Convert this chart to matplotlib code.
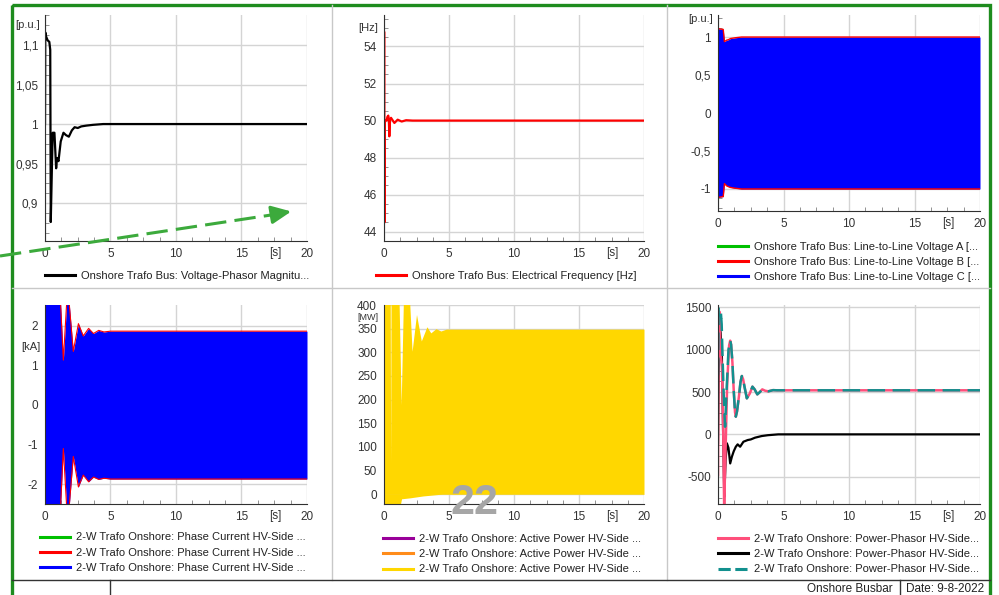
import matplotlib
matplotlib.use("Agg")
import matplotlib.pyplot as plt
from matplotlib.lines import Line2D
from matplotlib.patches import Rectangle
from matplotlib.ticker import AutoMinorLocator, FuncFormatter, MultipleLocator
import matplotlib.transforms as mtransforms

plt.rcParams['font.family'] = ['Liberation Sans', 'DejaVu Sans']

# --- data (time in s) ---
# 1) voltage-phasor magnitude [p.u.]
v_t = [0, 0.02, 0.08, 0.2, 0.33, 0.4, 0.44, 0.54, 0.59, 0.72, 0.85, 0.92, 1.03, 1.2,
       1.41, 1.6, 1.82, 2.05, 2.26, 2.5, 2.77, 3.15, 3.67, 4.44, 5.5, 20]
v_pu = [1.0, 1.116, 1.111, 1.106, 1.104, 1.094, 0.876, 0.955, 0.989, 0.989, 0.944, 0.957, 0.953, 0.978,
        0.989, 0.986, 0.984, 0.992, 0.996, 0.995, 0.997, 0.998, 0.999, 1.0, 1.0, 1.0]

# 2) electrical frequency [Hz]
f_t = [0, 0.01, 0.03, 0.06, 0.2, 0.26, 0.33, 0.37, 0.41, 0.46, 0.54, 0.8, 1.05, 1.36, 1.7, 2.2, 20]
f_hz = [50.0, 54.8, 44.5, 50.0, 50.0, 50.2, 50.27, 50.1, 49.15, 50.0, 50.15, 49.87, 50.05, 49.95, 50.02, 50.0, 50.0]

# 3) line-to-line voltage envelope [p.u.]
ul_t = [0, 0.03, 0.4, 0.49, 0.67, 0.8, 0.95, 1.3, 1.8, 20]
ul_up = [1.08, 1.11, 1.1, 0.94, 0.96, 0.965, 0.98, 0.99, 1.0, 1.0]
ul_lo = [-1.08, -1.11, -1.1, -0.93, -0.96, -0.97, -0.98, -0.99, -1.0, -1.0]

# 4) phase current HV-side envelope [kA]
ia_t = [0, 1.19, 1.4, 1.65, 1.85, 2.16, 2.55, 2.92, 3.33, 3.7, 4.1, 4.5, 5.0, 20]
ia_up = [2.55, 2.55, 1.13, 2.55, 2.55, 1.35, 2.05, 1.74, 1.93, 1.8, 1.88, 1.84, 1.86, 1.86]
ia_lo = [-2.55, -2.55, -1.1, -2.55, -2.55, -1.3, -2.07, -1.77, -1.94, -1.82, -1.88, -1.85, -1.87, -1.87]

# 5) active power HV-side envelope [MW]
p_t = [0, 0.48, 0.51, 0.54, 1.15, 1.32, 1.5, 1.95, 2.16, 2.5, 2.87, 3.3, 3.6, 4.0, 4.37, 4.8, 20]
p_up = [420, 420, 65, 420, 420, 189, 420, 420, 302, 380, 324, 354, 341, 350, 345, 349, 349]
pl_t = [0, 1.2, 1.35, 2.0, 3.0, 4.5, 20]
p_lo = [-30, -30, -10, -8, -4, 0, 0]

# 6) power phasor HV-side
pk_t = [0, 0.04, 0.1, 0.2, 0.3, 0.38, 0.47, 0.56, 0.7, 0.85, 0.93, 1.0, 1.1, 1.2, 1.3, 1.36,
        1.45, 1.6, 1.72, 1.82, 1.92, 2.0, 2.2, 2.42, 2.63, 2.8, 3.0, 3.2, 3.38, 3.6, 3.84, 4.2, 4.5, 20]
pk_v = [-480, 1200, 1450, 950, 800, 250, -850, -300, 600, 1050, 1106, 1060, 850, 520, 260, 209,
        270, 450, 620, 689, 650, 580, 425, 480, 563, 530, 472, 500, 531, 515, 508, 522, 520, 520]
tl_t = [0, 0.05, 0.2, 0.28, 0.35, 0.45, 0.54, 0.65, 0.8, 0.93, 1.0, 1.1, 1.2, 1.3, 1.36,
        1.45, 1.6, 1.72, 1.82, 1.92, 2.0, 2.2, 2.42, 2.63, 2.8, 3.0, 3.2, 3.38, 3.6, 3.84, 4.2, 4.5, 20]
tl_v = [700, 1500, 1480, 1300, 900, 400, 90, 500, 1000, 1106, 1060, 850, 520, 260, 209,
        270, 450, 620, 689, 650, 580, 425, 480, 563, 530, 472, 500, 531, 515, 508, 522, 520, 520]
bk_t = [0, 0.05, 0.13, 0.2, 0.3, 0.38, 0.48, 0.58, 0.68, 0.8, 0.93, 1.06, 1.2, 1.36, 1.5,
        1.69, 1.94, 2.27, 2.5, 2.83, 3.33, 3.8, 4.6, 20]
bk_v = [-105, 700, 1270, 1200, 900, 100, -736, -300, -106, -160, -343, -264, -200, -146, -118,
        -146, -87, -67, -60, -39, -20, -10, 0, 0]

W, H = 999, 595
fig = plt.figure(figsize=(W / 100, H / 100), dpi=100)


def px_axes(left, top, right, bottom):
    return fig.add_axes([left / W, 1 - bottom / H, (right - left) / W, (bottom - top) / H])


comma = FuncFormatter(lambda v, p: ('%g' % v).replace('.', ','))


def style(ax, ylim, ystep):
    ax.set_xlim(0, 20)
    ax.set_ylim(*ylim)
    ax.xaxis.set_major_locator(MultipleLocator(5))
    ax.yaxis.set_major_locator(MultipleLocator(ystep))
    ax.xaxis.set_minor_locator(AutoMinorLocator(4))
    ax.yaxis.set_minor_locator(AutoMinorLocator(4))
    ax.yaxis.set_major_formatter(comma)
    ax.grid(True, which='major', color='#d4d4d4', lw=1)
    ax.set_axisbelow(True)
    for s in ('top', 'right'):
        ax.spines[s].set_visible(False)
    for s in ('left', 'bottom'):
        ax.spines[s].set_color('#303030')
    ax.tick_params(which='both', direction='in', colors='#808080', labelcolor='#333333',
                   labelsize=8.5, pad=5)
    ax.tick_params(which='major', length=0)
    ax.tick_params(which='minor', length=3)
    # "[s]" sits in the tick-label row, ~12 px under the axis
    off = mtransforms.offset_copy(ax.transAxes, fig=fig, x=0, y=-12, units='dots')
    tr = mtransforms.blended_transform_factory(ax.transData, off)
    ax.text(17.6, 0, '[s]', transform=tr, ha='center', va='center', fontsize=8.5, color='#333333')


def legend(ax, items, x0, top):
    handles = [Line2D([], [], color=c, lw=2.2, ls=ls) for c, ls, _ in items]
    labels = [lab for _, _, lab in items]
    ax.legend(handles, labels, loc='upper left', bbox_to_anchor=(x0, top), bbox_transform=ov.transData,
              frameon=False, fontsize=8, borderpad=0, borderaxespad=0, handlelength=2.7,
              handletextpad=0.55, labelspacing=0.47, labelcolor='#222222')


ov = fig.add_axes([0, 0, 1, 1], zorder=10)
ov.set_xlim(0, W)
ov.set_ylim(H, 0)
ov.axis('off')
ov.patch.set_visible(False)

# panel 1
ax1 = px_axes(45, 15, 307, 241)
ax1.plot(v_t, v_pu, color='black', lw=1.6)
style(ax1, (0.852, 1.138), 0.05)
legend(ax1, [('black', '-', 'Onshore Trafo Bus: Voltage-Phasor Magnitu...')], 45, 271)

# panel 2
ax2 = px_axes(384, 15, 644, 241)
ax2.plot(f_t, f_hz, color='red', lw=1.6)
style(ax2, (43.5, 55.7), 2)
legend(ax2, [('red', '-', 'Onshore Trafo Bus: Electrical Frequency [Hz]')], 376, 271)

# panel 3
ax3 = px_axes(718, 15, 980, 211)
ax3.plot(ul_t, ul_up, color='red', lw=1.0)
ax3.plot(ul_t, ul_lo, color='red', lw=1.0)
ax3.fill_between(ul_t, ul_lo, ul_up, color='#0000ff', lw=0)
style(ax3, (-1.29, 1.29), 0.5)
legend(ax3, [('#00c000', '-', 'Onshore Trafo Bus: Line-to-Line Voltage A [...'),
             ('red', '-', 'Onshore Trafo Bus: Line-to-Line Voltage B [...'),
             ('#0000ff', '-', 'Onshore Trafo Bus: Line-to-Line Voltage C [...')], 718, 241.5)

# panel 4
ax4 = px_axes(45, 305, 307, 504)
ax4.plot(ia_t, ia_up, color='red', lw=0.8)
ax4.plot(ia_t, ia_lo, color='red', lw=0.8)
ax4.fill_between(ia_t, ia_lo, ia_up, color='#0000ff', lw=0)
style(ax4, (-2.5, 2.52), 1)
legend(ax4, [('#00c000', '-', '2-W Trafo Onshore: Phase Current HV-Side ...'),
             ('red', '-', '2-W Trafo Onshore: Phase Current HV-Side ...'),
             ('#0000ff', '-', '2-W Trafo Onshore: Phase Current HV-Side ...')], 40, 532.5)

# panel 5
ax5 = px_axes(384, 305, 644, 504)
ax5.fill_between(p_t, 0, p_up, color='#ffd700', lw=0)
ax5.fill_between(pl_t, p_lo, 1, color='#ffd700', lw=0)
style(ax5, (-21, 400), 50)
legend(ax5, [('#990099', '-', '2-W Trafo Onshore: Active Power HV-Side ...'),
             ('#ff8c1a', '-', '2-W Trafo Onshore: Active Power HV-Side ...'),
             ('#ffd700', '-', '2-W Trafo Onshore: Active Power HV-Side ...')], 383, 534)

# panel 6
ax6 = px_axes(718, 305, 980, 504)
ax6.plot(bk_t, bk_v, color='black', lw=1.6)
ax6.plot(pk_t, pk_v, color='#ff4f7b', lw=1.8)
ax6.plot(tl_t, tl_v, color='#12908e', lw=1.8, dashes=(7, 3))
style(ax6, (-822, 1527), 500)
legend(ax6, [('#ff4f7b', '-', '2-W Trafo Onshore: Power-Phasor HV-Side...'),
             ('black', '-', '2-W Trafo Onshore: Power-Phasor HV-Side...'),
             ('#12908e', (0, (4, 1.5)), '2-W Trafo Onshore: Power-Phasor HV-Side...')], 718, 534)

# unit labels
for x, y, s, fs in [(40, 25, '[p.u.]', 8), (378, 28, '[Hz]', 8), (713, 19, '[p.u.]', 8),
                    (40, 347, '[kA]', 8), (378, 318, '[MW]', 6.5)]:
    ov.text(x, y, s, ha='right', va='center', fontsize=fs, color='#333333')

# page frame and separators
for x in (332, 667):
    ov.plot([x, x], [5, 580], color='#c8c8c8', lw=1)
ov.plot([12, 990], [288, 288], color='#c8c8c8', lw=1)
ov.plot([12, 990], [580, 580], color='#333333', lw=1)
for x in (110, 900):
    ov.plot([x, x], [580, 600], color='#333333', lw=1)
ov.text(893, 589, 'Onshore Busbar', ha='right', va='center', fontsize=8.5, color='#222222')
ov.text(906, 589, 'Date: 9-8-2022', ha='left', va='center', fontsize=8.5, color='#222222')
ov.add_patch(Rectangle((12, 5), 978, 600, fill=False, edgecolor='#1e8c1e', lw=2.4, clip_on=False))

# annotation arrow and page number
ov.plot([0, 281], [256, 213.5], color='#3caa3c', lw=2.2, dashes=(7, 2.7), solid_capstyle='butt')
ov.annotate('', xy=(294, 211), xytext=(276, 214),
            arrowprops=dict(arrowstyle='-|>,head_length=1.2,head_width=0.55', color='#3caa3c', lw=2.2))
ov.text(474, 503, '22', ha='center', va='center', fontsize=31, fontweight='bold', color='#a6a6a6')

fig.savefig('out.png', dpi=100)
